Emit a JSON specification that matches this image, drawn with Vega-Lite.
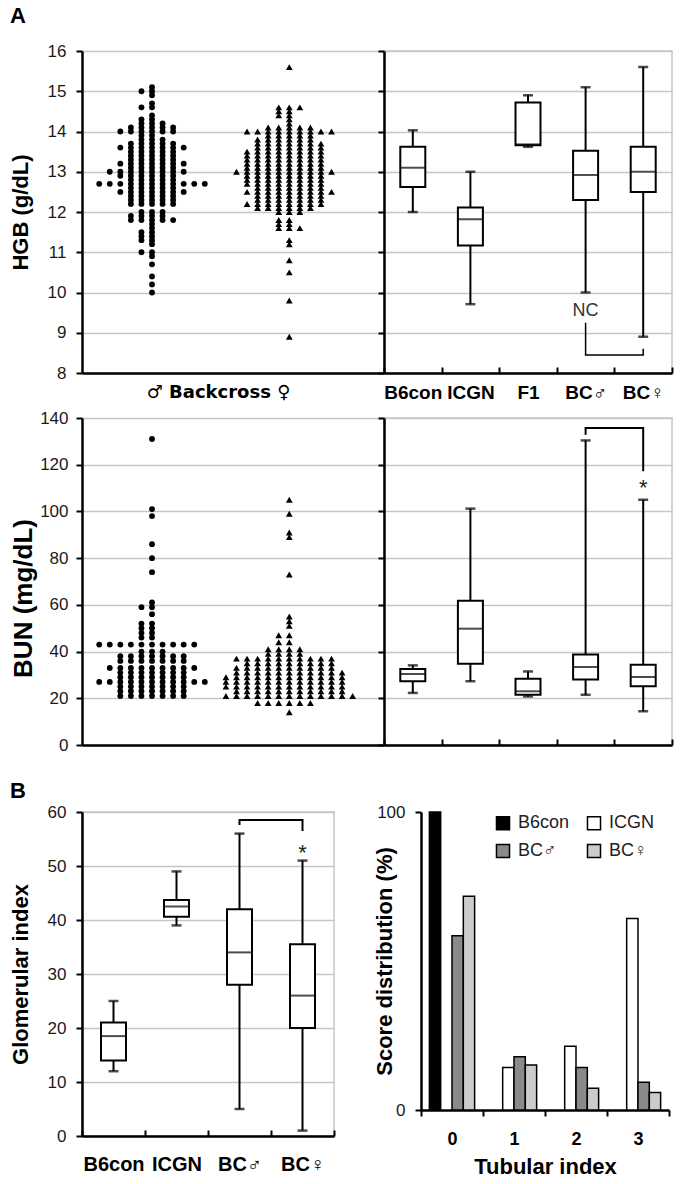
{
"$schema":"https://vega.github.io/schema/vega-lite/v6.json",
"padding":{"top":5,"left":8,"right":4,"bottom":4},
"config":{"font":"Liberation Sans","view":{"stroke":null},
"axis":{"domainColor":"#000","domainWidth":2.5,"tickColor":"#000","tickWidth":2,"tickSize":6,"gridColor":"#c6c6c6","gridWidth":1.5,"labelColor":"#1a1a1a","labelFontSize":17,"labelFont":"Liberation Sans","titleFont":"Liberation Sans","titleFontSize":22,"titleFontWeight":"bold","titleColor":"#000","labelPadding":8}},
"datasets":{
"hgb":[
{"s":"M","v":15.1},{"s":"M","v":15},{"s":"M","v":15},{"s":"M","v":14.9},{"s":"M","v":14.7},{"s":"M","v":14.6},{"s":"M","v":14.6},{"s":"M","v":14.4},{"s":"M","v":14.3},{"s":"M","v":14.3},
{"s":"M","v":14.2},{"s":"M","v":14.2},{"s":"M","v":14.2},{"s":"M","v":14.1},{"s":"M","v":14.1},{"s":"M","v":14.1},{"s":"M","v":14.1},{"s":"M","v":14.1},
{"s":"M","v":14},{"s":"M","v":14},{"s":"M","v":14},{"s":"M","v":14},{"s":"M","v":14},{"s":"M","v":14},{"s":"M","v":13.9},{"s":"M","v":13.9},{"s":"M","v":13.8},{"s":"M","v":13.8},{"s":"M","v":13.8},
{"s":"M","v":13.7},{"s":"M","v":13.7},{"s":"M","v":13.7},{"s":"M","v":13.7},{"s":"M","v":13.7},
{"s":"M","v":13.6},{"s":"M","v":13.6},{"s":"M","v":13.6},{"s":"M","v":13.6},{"s":"M","v":13.6},{"s":"M","v":13.6},{"s":"M","v":13.6},
{"s":"M","v":13.5},{"s":"M","v":13.5},{"s":"M","v":13.5},{"s":"M","v":13.5},{"s":"M","v":13.5},
{"s":"M","v":13.4},{"s":"M","v":13.4},{"s":"M","v":13.4},{"s":"M","v":13.4},{"s":"M","v":13.4},
{"s":"M","v":13.3},{"s":"M","v":13.3},{"s":"M","v":13.3},{"s":"M","v":13.3},{"s":"M","v":13.3},
{"s":"M","v":13.2},{"s":"M","v":13.2},{"s":"M","v":13.2},{"s":"M","v":13.2},{"s":"M","v":13.2},{"s":"M","v":13.2},{"s":"M","v":13.2},
{"s":"M","v":13.1},{"s":"M","v":13.1},{"s":"M","v":13.1},{"s":"M","v":13.1},{"s":"M","v":13.1},
{"s":"M","v":13},{"s":"M","v":13},{"s":"M","v":13},{"s":"M","v":13},{"s":"M","v":13},{"s":"M","v":13},{"s":"M","v":13},{"s":"M","v":13},
{"s":"M","v":12.9},{"s":"M","v":12.9},{"s":"M","v":12.9},{"s":"M","v":12.9},{"s":"M","v":12.9},{"s":"M","v":12.9},
{"s":"M","v":12.8},{"s":"M","v":12.8},{"s":"M","v":12.8},{"s":"M","v":12.8},{"s":"M","v":12.8},
{"s":"M","v":12.7},{"s":"M","v":12.7},{"s":"M","v":12.7},{"s":"M","v":12.7},{"s":"M","v":12.7},{"s":"M","v":12.7},{"s":"M","v":12.7},{"s":"M","v":12.7},{"s":"M","v":12.7},{"s":"M","v":12.7},{"s":"M","v":12.7},
{"s":"M","v":12.6},{"s":"M","v":12.6},{"s":"M","v":12.6},{"s":"M","v":12.6},{"s":"M","v":12.6},
{"s":"M","v":12.5},{"s":"M","v":12.5},{"s":"M","v":12.5},{"s":"M","v":12.5},{"s":"M","v":12.5},{"s":"M","v":12.5},{"s":"M","v":12.5},
{"s":"M","v":12.4},{"s":"M","v":12.4},{"s":"M","v":12.4},{"s":"M","v":12.4},{"s":"M","v":12.4},
{"s":"M","v":12.3},{"s":"M","v":12.3},{"s":"M","v":12.3},{"s":"M","v":12.3},{"s":"M","v":12.3},
{"s":"M","v":12.2},{"s":"M","v":12.2},{"s":"M","v":12.2},{"s":"M","v":12.2},{"s":"M","v":12.2},
{"s":"M","v":12},{"s":"M","v":12},{"s":"M","v":12},{"s":"M","v":11.9},{"s":"M","v":11.9},{"s":"M","v":11.9},{"s":"M","v":11.9},
{"s":"M","v":11.8},{"s":"M","v":11.8},{"s":"M","v":11.8},{"s":"M","v":11.8},{"s":"M","v":11.8},
{"s":"M","v":11.7},{"s":"M","v":11.6},{"s":"M","v":11.5},{"s":"M","v":11.5},{"s":"M","v":11.4},{"s":"M","v":11.4},{"s":"M","v":11.3},{"s":"M","v":11.3},{"s":"M","v":11.2},
{"s":"M","v":11},{"s":"M","v":11},{"s":"M","v":10.9},{"s":"M","v":10.7},{"s":"M","v":10.4},{"s":"M","v":10.2},{"s":"M","v":10},
{"s":"F","v":15.6},{"s":"F","v":14.6},{"s":"F","v":14.6},{"s":"F","v":14.6},{"s":"F","v":14.5},{"s":"F","v":14.5},{"s":"F","v":14.4},{"s":"F","v":14.4},{"s":"F","v":14.3},{"s":"F","v":14.2},
{"s":"F","v":14.1},{"s":"F","v":14.1},{"s":"F","v":14.1},{"s":"F","v":14.1},{"s":"F","v":14.1},
{"s":"F","v":14},{"s":"F","v":14},{"s":"F","v":14},{"s":"F","v":14},{"s":"F","v":14},{"s":"F","v":14},{"s":"F","v":14},{"s":"F","v":14},{"s":"F","v":14},
{"s":"F","v":13.9},{"s":"F","v":13.9},{"s":"F","v":13.9},{"s":"F","v":13.9},{"s":"F","v":13.9},
{"s":"F","v":13.8},{"s":"F","v":13.8},{"s":"F","v":13.8},{"s":"F","v":13.8},{"s":"F","v":13.8},{"s":"F","v":13.8},
{"s":"F","v":13.7},{"s":"F","v":13.7},{"s":"F","v":13.7},{"s":"F","v":13.7},{"s":"F","v":13.7},{"s":"F","v":13.7},{"s":"F","v":13.7},
{"s":"F","v":13.6},{"s":"F","v":13.6},{"s":"F","v":13.6},{"s":"F","v":13.6},{"s":"F","v":13.6},{"s":"F","v":13.6},{"s":"F","v":13.6},
{"s":"F","v":13.5},{"s":"F","v":13.5},{"s":"F","v":13.5},{"s":"F","v":13.5},{"s":"F","v":13.5},{"s":"F","v":13.5},{"s":"F","v":13.5},{"s":"F","v":13.5},
{"s":"F","v":13.4},{"s":"F","v":13.4},{"s":"F","v":13.4},{"s":"F","v":13.4},{"s":"F","v":13.4},{"s":"F","v":13.4},{"s":"F","v":13.4},{"s":"F","v":13.4},
{"s":"F","v":13.3},{"s":"F","v":13.3},{"s":"F","v":13.3},{"s":"F","v":13.3},{"s":"F","v":13.3},{"s":"F","v":13.3},{"s":"F","v":13.3},{"s":"F","v":13.3},
{"s":"F","v":13.2},{"s":"F","v":13.2},{"s":"F","v":13.2},{"s":"F","v":13.2},{"s":"F","v":13.2},{"s":"F","v":13.2},{"s":"F","v":13.2},{"s":"F","v":13.2},
{"s":"F","v":13.1},{"s":"F","v":13.1},{"s":"F","v":13.1},{"s":"F","v":13.1},{"s":"F","v":13.1},{"s":"F","v":13.1},{"s":"F","v":13.1},{"s":"F","v":13.1},
{"s":"F","v":13},{"s":"F","v":13},{"s":"F","v":13},{"s":"F","v":13},{"s":"F","v":13},{"s":"F","v":13},{"s":"F","v":13},{"s":"F","v":13},{"s":"F","v":13},{"s":"F","v":13},
{"s":"F","v":12.9},{"s":"F","v":12.9},{"s":"F","v":12.9},{"s":"F","v":12.9},{"s":"F","v":12.9},{"s":"F","v":12.9},{"s":"F","v":12.9},{"s":"F","v":12.9},
{"s":"F","v":12.8},{"s":"F","v":12.8},{"s":"F","v":12.8},{"s":"F","v":12.8},{"s":"F","v":12.8},{"s":"F","v":12.8},{"s":"F","v":12.8},{"s":"F","v":12.8},
{"s":"F","v":12.7},{"s":"F","v":12.7},{"s":"F","v":12.7},{"s":"F","v":12.7},{"s":"F","v":12.7},{"s":"F","v":12.7},{"s":"F","v":12.7},{"s":"F","v":12.7},
{"s":"F","v":12.6},{"s":"F","v":12.6},{"s":"F","v":12.6},{"s":"F","v":12.6},{"s":"F","v":12.6},{"s":"F","v":12.6},{"s":"F","v":12.6},
{"s":"F","v":12.5},{"s":"F","v":12.5},{"s":"F","v":12.5},{"s":"F","v":12.5},{"s":"F","v":12.5},{"s":"F","v":12.5},{"s":"F","v":12.5},{"s":"F","v":12.5},{"s":"F","v":12.5},
{"s":"F","v":12.4},{"s":"F","v":12.4},{"s":"F","v":12.4},{"s":"F","v":12.4},{"s":"F","v":12.4},{"s":"F","v":12.4},{"s":"F","v":12.4},
{"s":"F","v":12.3},{"s":"F","v":12.3},{"s":"F","v":12.3},{"s":"F","v":12.3},{"s":"F","v":12.3},{"s":"F","v":12.3},{"s":"F","v":12.3},
{"s":"F","v":12.2},{"s":"F","v":12.2},{"s":"F","v":12.2},{"s":"F","v":12.2},{"s":"F","v":12.2},{"s":"F","v":12.2},{"s":"F","v":12.2},{"s":"F","v":12.2},
{"s":"F","v":12.1},{"s":"F","v":12.1},{"s":"F","v":12.1},{"s":"F","v":12.1},{"s":"F","v":12.1},{"s":"F","v":12.1},
{"s":"F","v":12},{"s":"F","v":12},{"s":"F","v":12},{"s":"F","v":11.8},{"s":"F","v":11.8},{"s":"F","v":11.7},{"s":"F","v":11.7},{"s":"F","v":11.6},{"s":"F","v":11.6},{"s":"F","v":11.6},
{"s":"F","v":11.3},{"s":"F","v":11.2},{"s":"F","v":10.8},{"s":"F","v":10.5},{"s":"F","v":9.8},{"s":"F","v":8.9}
],
"bun":[
{"s":"M","v":131},{"s":"M","v":101},{"s":"M","v":98},{"s":"M","v":86},{"s":"M","v":80},{"s":"M","v":74},{"s":"M","v":61},{"s":"M","v":59},{"s":"M","v":59},{"s":"M","v":56},
{"s":"M","v":52},{"s":"M","v":52},{"s":"M","v":50},{"s":"M","v":50},{"s":"M","v":48},{"s":"M","v":48},{"s":"M","v":46},{"s":"M","v":46},
{"s":"M","v":43},{"s":"M","v":43},{"s":"M","v":43},{"s":"M","v":43},{"s":"M","v":43},{"s":"M","v":43},{"s":"M","v":43},{"s":"M","v":43},{"s":"M","v":43},{"s":"M","v":43},
{"s":"M","v":40},{"s":"M","v":40},{"s":"M","v":40},
{"s":"M","v":38},{"s":"M","v":38},{"s":"M","v":38},{"s":"M","v":38},{"s":"M","v":38},{"s":"M","v":38},{"s":"M","v":38},
{"s":"M","v":36},{"s":"M","v":36},{"s":"M","v":36},{"s":"M","v":36},{"s":"M","v":36},{"s":"M","v":36},{"s":"M","v":36},
{"s":"M","v":33},{"s":"M","v":33},{"s":"M","v":33},{"s":"M","v":33},{"s":"M","v":33},{"s":"M","v":33},{"s":"M","v":33},{"s":"M","v":33},{"s":"M","v":33},
{"s":"M","v":31},{"s":"M","v":31},{"s":"M","v":31},{"s":"M","v":31},{"s":"M","v":31},{"s":"M","v":31},{"s":"M","v":31},
{"s":"M","v":29},{"s":"M","v":29},{"s":"M","v":29},{"s":"M","v":29},{"s":"M","v":29},{"s":"M","v":29},{"s":"M","v":29},
{"s":"M","v":27},{"s":"M","v":27},{"s":"M","v":27},{"s":"M","v":27},{"s":"M","v":27},{"s":"M","v":27},{"s":"M","v":27},{"s":"M","v":27},{"s":"M","v":27},{"s":"M","v":27},{"s":"M","v":27},
{"s":"M","v":25},{"s":"M","v":25},{"s":"M","v":25},{"s":"M","v":25},{"s":"M","v":25},{"s":"M","v":25},{"s":"M","v":25},
{"s":"M","v":23},{"s":"M","v":23},{"s":"M","v":23},{"s":"M","v":23},{"s":"M","v":23},{"s":"M","v":23},{"s":"M","v":23},
{"s":"M","v":21},{"s":"M","v":21},{"s":"M","v":21},{"s":"M","v":21},{"s":"M","v":21},{"s":"M","v":21},{"s":"M","v":21},
{"s":"F","v":105},{"s":"F","v":99},{"s":"F","v":91},{"s":"F","v":89},{"s":"F","v":73},{"s":"F","v":55},{"s":"F","v":53},{"s":"F","v":51},
{"s":"F","v":47},{"s":"F","v":47},{"s":"F","v":44},{"s":"F","v":44},{"s":"F","v":41},{"s":"F","v":41},{"s":"F","v":41},{"s":"F","v":41},{"s":"F","v":39},{"s":"F","v":39},{"s":"F","v":39},{"s":"F","v":39},
{"s":"F","v":37},{"s":"F","v":37},{"s":"F","v":37},{"s":"F","v":37},{"s":"F","v":37},{"s":"F","v":37},{"s":"F","v":37},{"s":"F","v":37},{"s":"F","v":37},{"s":"F","v":37},
{"s":"F","v":35},{"s":"F","v":35},{"s":"F","v":35},{"s":"F","v":35},{"s":"F","v":35},{"s":"F","v":35},{"s":"F","v":35},{"s":"F","v":35},{"s":"F","v":35},
{"s":"F","v":33},{"s":"F","v":33},{"s":"F","v":33},{"s":"F","v":33},{"s":"F","v":33},{"s":"F","v":33},{"s":"F","v":33},{"s":"F","v":33},{"s":"F","v":33},{"s":"F","v":33},
{"s":"F","v":31},{"s":"F","v":31},{"s":"F","v":31},{"s":"F","v":31},{"s":"F","v":31},{"s":"F","v":31},{"s":"F","v":31},{"s":"F","v":31},{"s":"F","v":31},{"s":"F","v":31},{"s":"F","v":31},
{"s":"F","v":29},{"s":"F","v":29},{"s":"F","v":29},{"s":"F","v":29},{"s":"F","v":29},{"s":"F","v":29},{"s":"F","v":29},{"s":"F","v":29},{"s":"F","v":29},{"s":"F","v":29},{"s":"F","v":29},{"s":"F","v":29},
{"s":"F","v":27},{"s":"F","v":27},{"s":"F","v":27},{"s":"F","v":27},{"s":"F","v":27},{"s":"F","v":27},{"s":"F","v":27},{"s":"F","v":27},{"s":"F","v":27},{"s":"F","v":27},{"s":"F","v":27},{"s":"F","v":27},
{"s":"F","v":25},{"s":"F","v":25},{"s":"F","v":25},{"s":"F","v":25},{"s":"F","v":25},{"s":"F","v":25},{"s":"F","v":25},{"s":"F","v":25},{"s":"F","v":25},{"s":"F","v":25},{"s":"F","v":25},{"s":"F","v":25},
{"s":"F","v":23},{"s":"F","v":23},{"s":"F","v":23},{"s":"F","v":23},{"s":"F","v":23},{"s":"F","v":23},{"s":"F","v":23},{"s":"F","v":23},{"s":"F","v":23},{"s":"F","v":23},{"s":"F","v":23},
{"s":"F","v":21},{"s":"F","v":21},{"s":"F","v":21},{"s":"F","v":21},{"s":"F","v":21},{"s":"F","v":21},{"s":"F","v":21},{"s":"F","v":21},{"s":"F","v":21},{"s":"F","v":21},{"s":"F","v":21},{"s":"F","v":21},{"s":"F","v":21},
{"s":"F","v":18},{"s":"F","v":18},{"s":"F","v":18},{"s":"F","v":18},{"s":"F","v":18},{"s":"F","v":18},{"s":"F","v":14}
],
"hgbBox":[
{"g":"B6con","lo":12.0,"q1":12.62,"md":13.1,"q3":13.62,"hi":14.03},
{"g":"ICGN","lo":9.71,"q1":11.17,"md":11.82,"q3":12.11,"hi":13.0},
{"g":"F1","lo":13.62,"q1":13.66,"md":13.68,"q3":14.72,"hi":14.9},
{"g":"BC♂","lo":10.0,"q1":12.3,"md":12.92,"q3":13.52,"hi":15.1},
{"g":"BC♀","lo":8.9,"q1":12.5,"md":13.0,"q3":13.62,"hi":15.6}],
"hgbBr":[{"g":"BC♂","y":9.25,"o":1},{"g":"BC♂","y":8.45,"o":2},{"g":"BC♀","y":8.45,"o":3},{"g":"BC♀","y":8.6,"o":4}],
"bunBox":[
{"g":"B6con","lo":22.3,"q1":27.3,"md":30.4,"q3":32.5,"hi":34.1},
{"g":"ICGN","lo":27.3,"q1":34.8,"md":49.8,"q3":61.8,"hi":101.2},
{"g":"F1","lo":20.8,"q1":21.5,"md":23.0,"q3":28.4,"hi":31.5},
{"g":"BC♂","lo":21.5,"q1":28.0,"md":33.4,"q3":38.7,"hi":130.4},
{"g":"BC♀","lo":14.4,"q1":25.1,"md":29.1,"q3":34.4,"hi":105}],
"bunBr":[{"g":"BC♂","y":132.8,"o":1},{"g":"BC♂","y":135.7,"o":2},{"g":"BC♀","y":135.7,"o":3},{"g":"BC♀","y":117.2,"o":4}],
"glomBox":[
{"g":"B6con","lo":12,"q1":14,"md":18.5,"q3":21,"hi":25},
{"g":"ICGN","lo":39,"q1":40.6,"md":42.5,"q3":43.7,"hi":49},
{"g":"BC♂","lo":5,"q1":28,"md":34,"q3":42,"hi":56},
{"g":"BC♀","lo":1,"q1":20,"md":26,"q3":35.5,"hi":51}],
"glomBr":[{"g":"BC♂","y":57.6,"o":1},{"g":"BC♂","y":58.5,"o":2},{"g":"BC♀","y":58.5,"o":3},{"g":"BC♀","y":56.5,"o":4}],
"tub":[
{"i":"0","g":"B6con","p":100},{"i":"0","g":"BC♂","p":58.5},{"i":"0","g":"BC♀","p":71.7},
{"i":"1","g":"ICGN","p":14.3},{"i":"1","g":"BC♂","p":17.9},{"i":"1","g":"BC♀","p":15.1},
{"i":"2","g":"ICGN","p":21.4},{"i":"2","g":"BC♂","p":14.3},{"i":"2","g":"BC♀","p":7.3},
{"i":"3","g":"ICGN","p":64.3},{"i":"3","g":"BC♂","p":9.3},{"i":"3","g":"BC♀","p":5.9}]
},
"spacing":27,
"resolve":{"scale":{"xOffset":"independent"}},
"vconcat":[
{"spacing":6,"resolve":{"scale":{"xOffset":"independent"}},"vconcat":[
{"bounds":"flush","spacing":0,"resolve":{"scale":{"xOffset":"independent"}},
"title":{"text":"A","anchor":"start","frame":"group","dx":-72,"fontSize":22,"fontWeight":"bold","color":"#000","offset":14},
"hconcat":[
{"width":302,"height":322,"data":{"name":"hgb"},
"transform":[{"window":[{"op":"row_number","as":"k"}],"groupby":["s","v"]}],
"mark":{"type":"point","filled":true,"opacity":1,"color":"#000"},
"encoding":{
"x":{"field":"s","type":"nominal","scale":{"domain":["M","F"],"paddingInner":0,"paddingOuter":0.1,"align":0.05},"axis":{"title":"♂ Backcross ♀","labels":false,"ticks":false,"titleFont":"DejaVu Sans","titleFontSize":18,"titlePadding":10,"titleX":136}},
"xOffset":{"field":"k","type":"ordinal","scale":{"domain":[12,10,8,6,4,2,1,3,5,7,9,11,13]}},
"y":{"field":"v","type":"quantitative","scale":{"domain":[8,16]},"axis":{"title":"HGB (g/dL)","values":[8,9,10,11,12,13,14,15,16],"grid":true,"labelPadding":10,"minExtent":46,"maxExtent":46,"titlePadding":4}},
"shape":{"field":"s","type":"nominal","scale":{"domain":["M","F"],"range":["circle","triangle-up"]},"legend":null},
"size":{"field":"s","type":"ordinal","scale":{"domain":["M","F"],"range":[34,46]},"legend":null}}},
{"width":288,"height":322,"view":{"stroke":"#c6c6c6","strokeWidth":1.5},
"data":{"name":"hgbBox"},
"layer":[
{"mark":{"type":"rule","color":"#000","strokeWidth":2},
"encoding":{"x":{"field":"g","type":"nominal","scale":{"domain":["B6con","ICGN","F1","BC♂","BC♀"],"paddingInner":0,"paddingOuter":0},"axis":{"title":null,"labelAngle":0,"labelFontWeight":"bold","labelFontSize":19,"labelColor":"#000","tickBand":"extent","tickSize":-6,"labelPadding":16,"grid":false}},
"y":{"field":"lo","type":"quantitative","scale":{"domain":[8,16]},"axis":{"title":null,"labels":false,"values":[8,9,10,11,12,13,14,15,16],"grid":true}},"y2":{"field":"hi"}}},
{"mark":{"type":"bar","fill":"#fff","stroke":"#000","strokeWidth":2,"width":25},"encoding":{"x":{"field":"g","type":"nominal"},"y":{"field":"q1","type":"quantitative"},"y2":{"field":"q3"}}},
{"mark":{"type":"tick","color":"#000","thickness":2,"size":25},"encoding":{"x":{"field":"g","type":"nominal"},"y":{"field":"md","type":"quantitative"}}},
{"mark":{"type":"tick","color":"#000","thickness":2.5,"size":10},"encoding":{"x":{"field":"g","type":"nominal"},"y":{"field":"lo","type":"quantitative"}}},
{"mark":{"type":"tick","color":"#000","thickness":2.5,"size":10},"encoding":{"x":{"field":"g","type":"nominal"},"y":{"field":"hi","type":"quantitative"}}},
{"data":{"name":"hgbBr"},"mark":{"type":"line","color":"#000","strokeWidth":1.5},"encoding":{"x":{"field":"g","type":"nominal"},"y":{"field":"y","type":"quantitative"},"order":{"field":"o"}}},
{"data":{"values":[{"g":"BC♂","y":9.54,"t":"NC"}]},"mark":{"type":"text","fontSize":18,"color":"#333"},"encoding":{"x":{"field":"g","type":"nominal"},"y":{"field":"y","type":"quantitative"},"text":{"field":"t"}}}
]}
]},
{"bounds":"flush","spacing":0,"resolve":{"scale":{"xOffset":"independent"}},
"hconcat":[
{"width":302,"height":327,"data":{"name":"bun"},
"transform":[{"window":[{"op":"row_number","as":"k"}],"groupby":["s","v"]}],
"mark":{"type":"point","filled":true,"opacity":1,"color":"#000"},
"encoding":{
"x":{"field":"s","type":"nominal","scale":{"domain":["M","F"],"paddingInner":0,"paddingOuter":0.1,"align":0.05},"axis":{"title":null,"labels":false,"ticks":false}},
"xOffset":{"field":"k","type":"ordinal","scale":{"domain":[12,10,8,6,4,2,1,3,5,7,9,11,13]}},
"y":{"field":"v","type":"quantitative","scale":{"domain":[0,140]},"axis":{"title":"BUN (mg/dL)","values":[0,20,40,60,80,100,120,140],"grid":true,"labelPadding":8,"minExtent":46,"maxExtent":46,"titlePadding":0,"titleFontSize":26,"titleY":180}},
"shape":{"field":"s","type":"nominal","scale":{"domain":["M","F"],"range":["circle","triangle-up"]},"legend":null},
"size":{"field":"s","type":"ordinal","scale":{"domain":["M","F"],"range":[34,46]},"legend":null}}},
{"width":288,"height":327,"view":{"stroke":"#c6c6c6","strokeWidth":1.5},
"data":{"name":"bunBox"},
"layer":[
{"mark":{"type":"rule","color":"#000","strokeWidth":2},
"encoding":{"x":{"field":"g","type":"nominal","scale":{"domain":["B6con","ICGN","F1","BC♂","BC♀"],"paddingInner":0,"paddingOuter":0},"axis":{"title":null,"labels":false,"tickBand":"extent","tickSize":-6,"grid":false}},
"y":{"field":"lo","type":"quantitative","scale":{"domain":[0,140]},"axis":{"title":null,"labels":false,"values":[0,20,40,60,80,100,120,140],"grid":true}},"y2":{"field":"hi"}}},
{"mark":{"type":"bar","fill":"#fff","stroke":"#000","strokeWidth":2,"width":25},"encoding":{"x":{"field":"g","type":"nominal"},"y":{"field":"q1","type":"quantitative"},"y2":{"field":"q3"}}},
{"mark":{"type":"tick","color":"#000","thickness":2,"size":25},"encoding":{"x":{"field":"g","type":"nominal"},"y":{"field":"md","type":"quantitative"}}},
{"mark":{"type":"tick","color":"#000","thickness":2.5,"size":10},"encoding":{"x":{"field":"g","type":"nominal"},"y":{"field":"lo","type":"quantitative"}}},
{"mark":{"type":"tick","color":"#000","thickness":2.5,"size":10},"encoding":{"x":{"field":"g","type":"nominal"},"y":{"field":"hi","type":"quantitative"}}},
{"data":{"name":"bunBr"},"mark":{"type":"line","color":"#000","strokeWidth":2},"encoding":{"x":{"field":"g","type":"nominal"},"y":{"field":"y","type":"quantitative"},"order":{"field":"o"}}},
{"data":{"values":[{"g":"BC♀","y":110,"t":"*"}]},"mark":{"type":"text","fontSize":22,"color":"#222"},"encoding":{"x":{"field":"g","type":"nominal"},"y":{"field":"y","type":"quantitative"},"text":{"field":"t"}}}
]}
]}
]},
{"bounds":"flush","spacing":87,"resolve":{"scale":{"xOffset":"independent"}},
"title":{"text":"B","anchor":"start","frame":"group","dx":-72,"fontSize":22,"fontWeight":"bold","color":"#000","offset":-1},
"hconcat":[
{"width":252,"height":324,"view":{"stroke":"#c6c6c6","strokeWidth":1.5},
"data":{"name":"glomBox"},
"layer":[
{"mark":{"type":"rule","color":"#000","strokeWidth":2},
"encoding":{"x":{"field":"g","type":"nominal","scale":{"domain":["B6con","ICGN","BC♂","BC♀"],"paddingInner":0,"paddingOuter":0},"axis":{"title":null,"labelAngle":0,"labelFontWeight":"bold","labelFontSize":20,"labelColor":"#000","tickBand":"extent","tickSize":-6,"labelPadding":24,"grid":false}},
"y":{"field":"lo","type":"quantitative","scale":{"domain":[0,60]},"axis":{"title":"Glomerular index","values":[0,10,20,30,40,50,60],"grid":true,"labelPadding":10,"minExtent":46,"maxExtent":46,"titlePadding":4}},"y2":{"field":"hi"}}},
{"mark":{"type":"bar","fill":"#fff","stroke":"#000","strokeWidth":2,"width":25},"encoding":{"x":{"field":"g","type":"nominal"},"y":{"field":"q1","type":"quantitative"},"y2":{"field":"q3"}}},
{"mark":{"type":"tick","color":"#000","thickness":2,"size":25},"encoding":{"x":{"field":"g","type":"nominal"},"y":{"field":"md","type":"quantitative"}}},
{"mark":{"type":"tick","color":"#000","thickness":2.5,"size":10},"encoding":{"x":{"field":"g","type":"nominal"},"y":{"field":"lo","type":"quantitative"}}},
{"mark":{"type":"tick","color":"#000","thickness":2.5,"size":10},"encoding":{"x":{"field":"g","type":"nominal"},"y":{"field":"hi","type":"quantitative"}}},
{"data":{"name":"glomBr"},"mark":{"type":"line","color":"#000","strokeWidth":2},"encoding":{"x":{"field":"g","type":"nominal"},"y":{"field":"y","type":"quantitative"},"order":{"field":"o"}}},
{"data":{"values":[{"g":"BC♀","y":52.5,"t":"*"}]},"mark":{"type":"text","fontSize":22,"color":"#222"},"encoding":{"x":{"field":"g","type":"nominal"},"y":{"field":"y","type":"quantitative"},"text":{"field":"t"}}}
]},
{"width":248,"height":298,"data":{"name":"tub"},
"mark":{"type":"bar","stroke":"#000","strokeWidth":1.5},
"encoding":{
"x":{"field":"i","type":"nominal","scale":{"domain":["0","1","2","3"],"paddingInner":0,"paddingOuter":0},"axis":{"title":"Tubular index","labelAngle":0,"labelFontWeight":"bold","labelFontSize":18,"labelColor":"#000","tickBand":"extent","labelPadding":14,"titlePadding":8,"grid":false}},
"xOffset":{"field":"g","type":"nominal","scale":{"domain":["B6con","ICGN","BC♂","BC♀"],"paddingInner":0,"paddingOuter":0.74}},
"y":{"field":"p","type":"quantitative","scale":{"domain":[0,100]},"axis":{"title":"Score distribution (%)","values":[0,100],"grid":false,"labelPadding":10,"titlePadding":-20}},
"color":{"field":"g","type":"nominal","scale":{"domain":["B6con","BC♂","ICGN","BC♀"],"range":["#000000","#8a8a8a","#ffffff","#cccccc"]},
"legend":{"title":null,"orient":"none","legendX":412,"legendY":763,"columns":2,"symbolType":"square","symbolSize":170,"symbolStrokeColor":"#000","symbolStrokeWidth":1.5,"labelFontSize":18,"labelColor":"#222","columnPadding":14,"rowPadding":8,"labelOffset":6}}}}
]}
]
}
